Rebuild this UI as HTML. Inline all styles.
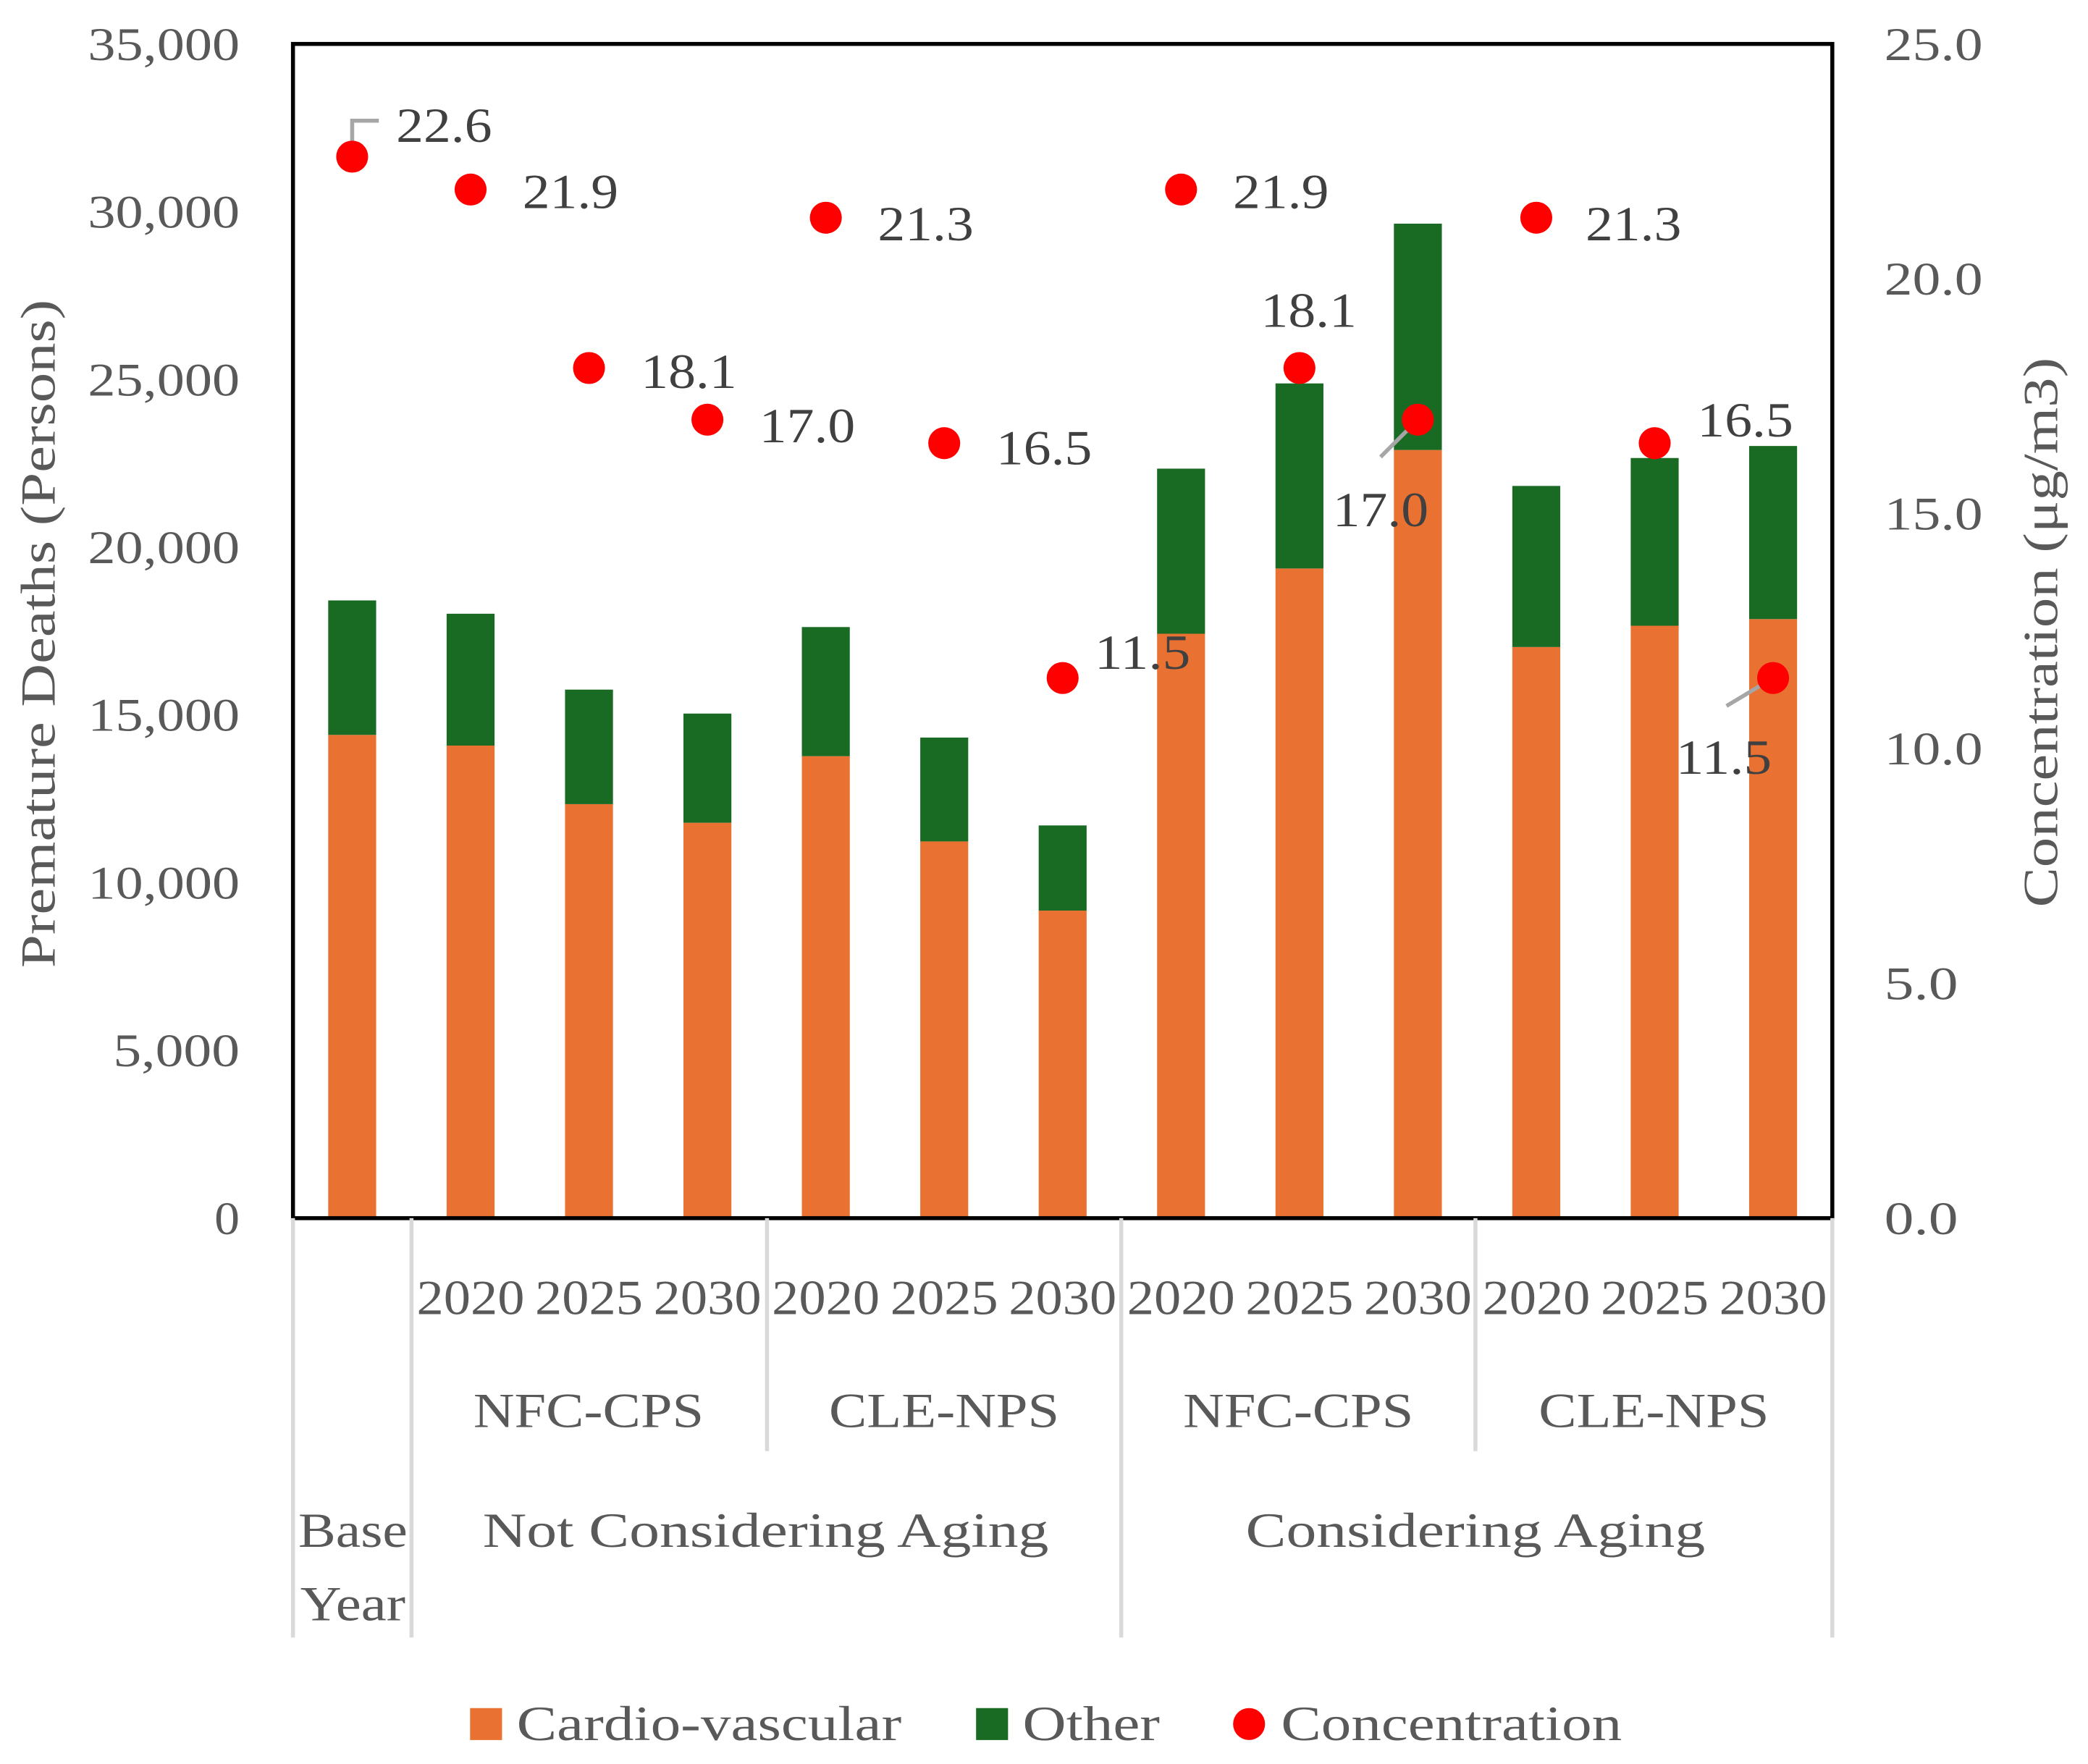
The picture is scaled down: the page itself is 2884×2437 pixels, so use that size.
<!DOCTYPE html>
<html><head><meta charset="utf-8"><style>
body{margin:0;background:#fff}
svg{display:block}
text{font-family:"Liberation Serif",serif;fill:#595959}
</style></head><body>
<svg id="chart" width="2884" height="2437" viewBox="0 0 1568 1325" xmlns="http://www.w3.org/2000/svg">
<g id="bars"></g>
<g id="dots"></g>
<rect x="220" y="33" width="1156" height="882" fill="none" stroke="#000" stroke-width="3"/>
<g id="yl"></g>
<g id="yr"></g>
<g id="xa"></g>
<text transform="translate(41,476) rotate(-90)" text-anchor="middle" font-size="37" textLength="502" lengthAdjust="spacingAndGlyphs">Premature Deaths (Persons)</text>
<text transform="translate(1545,475) rotate(-90)" text-anchor="middle" font-size="37" textLength="413" lengthAdjust="spacingAndGlyphs">Concentration (μg/m3)</text>
<g>
<rect x="353" y="1283" width="24" height="24" fill="#E97132"/>
<text x="388" y="1307" font-size="37" textLength="289" lengthAdjust="spacingAndGlyphs">Cardio-vascular</text>
<rect x="733" y="1283" width="24" height="24" fill="#196B24"/>
<text x="768" y="1307" font-size="37" textLength="103" lengthAdjust="spacingAndGlyphs">Other</text>
<circle cx="938" cy="1295" r="12" fill="#FF0000"/>
<text x="962" y="1307" font-size="37" textLength="256" lengthAdjust="spacingAndGlyphs">Concentration</text>
</g>
</svg>
<script>
const categories=["Base","NFC 2020","NFC 2025","NFC 2030","CLE 2020","CLE 2025","CLE 2030","A-NFC 2020","A-NFC 2025","A-NFC 2030","A-CLE 2020","A-CLE 2025","A-CLE 2030"];
const cardio=[14405,14087,12341,11786,13770,11230,9167,17420,19365,22897,17024,17658,17857];
const other=[4008,3929,3413,3254,3849,3095,2539,4921,5516,6746,4801,5000,5159];
const concentration=[22.6,21.9,18.1,17.0,21.3,16.5,11.5,21.9,18.1,17.0,21.3,16.5,11.5];
const leftTicks=["0","5,000","10,000","15,000","20,000","25,000","30,000","35,000"];
const rightTicks=["0.0","5.0","10.0","15.0","20.0","25.0"];
const years=["2020","2025","2030","2020","2025","2030","2020","2025","2030","2020","2025","2030"];
const NS="http://www.w3.org/2000/svg";
const L=220,R=1376,T=33,B=915;
const yL=v=>B-(v/35000)*(B-T);
const yR=v=>B-(v/25)*(B-T);
const step=(R-L)/categories.length;
const xC=i=>L+step*(i+0.5);
const bw=36;
function mk(tag,attrs,parent,txt){const e=document.createElementNS(NS,tag);for(const k in attrs)e.setAttribute(k,attrs[k]);if(txt!==undefined)e.textContent=txt;parent.appendChild(e);return e;}
const bars=document.getElementById('bars');
categories.forEach((c,i)=>{
 const r1=mk('rect',{x:xC(i)-bw/2,y:yL(cardio[i]),width:bw,height:B-yL(cardio[i]),fill:'#E97132'},bars);
 
 
 const r2=mk('rect',{x:xC(i)-bw/2,y:yL(cardio[i]+other[i]),width:bw,height:yL(cardio[i])-yL(cardio[i]+other[i]),fill:'#196B24'},bars);
 
 
});
const lab=[[33,-24],[39,1],[39,2],[39,4],[39,4],[39,3],[24,-20],[39,1],[-29,-44],[-64,67],[37,4],[32,-18],[-73,59]];
const leaders={0:[[0,0],[0,-27],[20,-27]],9:[[0,0],[-28,28]],12:[[0,0],[-35,21]]};
const dots=document.getElementById('dots');
concentration.forEach((v,i)=>{
 const cx=xC(i),cy=yR(v);
 if(leaders[i]){const p=mk('polyline',{points:leaders[i].map(q=>(cx+q[0])+','+(cy+q[1])).join(' '),fill:'none',stroke:'#A6A6A6','stroke-width':3},dots);
  
  }
 const c=mk('circle',{cx:cx,cy:cy,r:12,fill:'#FF0000'},dots);
 
 
 const t=mk('text',{x:cx+lab[i][0],y:cy+lab[i][1]+13,'font-size':37,textLength:72,lengthAdjust:'spacingAndGlyphs',style:'fill:#404040'},dots,v.toFixed(1));
 
 
});
const yl=document.getElementById('yl');
leftTicks.forEach((s,i)=>{const t=mk('text',{x:180,y:yL(i*5000)+12,'text-anchor':'end','font-size':35,textLength:s.length*19,lengthAdjust:'spacingAndGlyphs'},yl,s);
 
 });
const yr=document.getElementById('yr');
rightTicks.forEach((s,i)=>{const t=mk('text',{x:1415,y:yR(i*5)+12,'font-size':35,textLength:s.length*18.5,lengthAdjust:'spacingAndGlyphs'},yr,s);
 
 });
const xa=document.getElementById('xa');
const sep=[[220,1230],[309,1230],[576,1090],[842,1230],[1108,1090],[1376,1230]];
sep.forEach(s=>{const l=mk('line',{x1:s[0],y1:B,x2:s[0],y2:s[1],stroke:'#D9D9D9','stroke-width':3},xa);
 
 });
years.forEach((y,i)=>{const t=mk('text',{x:xC(i+1),y:987,'text-anchor':'middle','font-size':37,textLength:81,lengthAdjust:'spacingAndGlyphs'},xa,y);
 
 });
[["NFC-CPS",442],["CLE-NPS",709],["NFC-CPS",975],["CLE-NPS",1242]].forEach(g=>{const t=mk('text',{x:g[1],y:1072,'text-anchor':'middle','font-size':37,textLength:173,lengthAdjust:'spacingAndGlyphs'},xa,g[0]);
 
 });
[["Not Considering Aging",575,425],["Considering Aging",1108,345]].forEach(g=>{const t=mk('text',{x:g[1],y:1162,'text-anchor':'middle','font-size':37,textLength:g[2],lengthAdjust:'spacingAndGlyphs'},xa,g[0]);
 
 });
const b1=mk('text',{x:265,y:1162,'text-anchor':'middle','font-size':37,textLength:82,lengthAdjust:'spacingAndGlyphs'},xa,'Base');


const b2=mk('text',{x:265,y:1217,'text-anchor':'middle','font-size':37,textLength:79,lengthAdjust:'spacingAndGlyphs'},xa,'Year');


</script>
</body></html>
